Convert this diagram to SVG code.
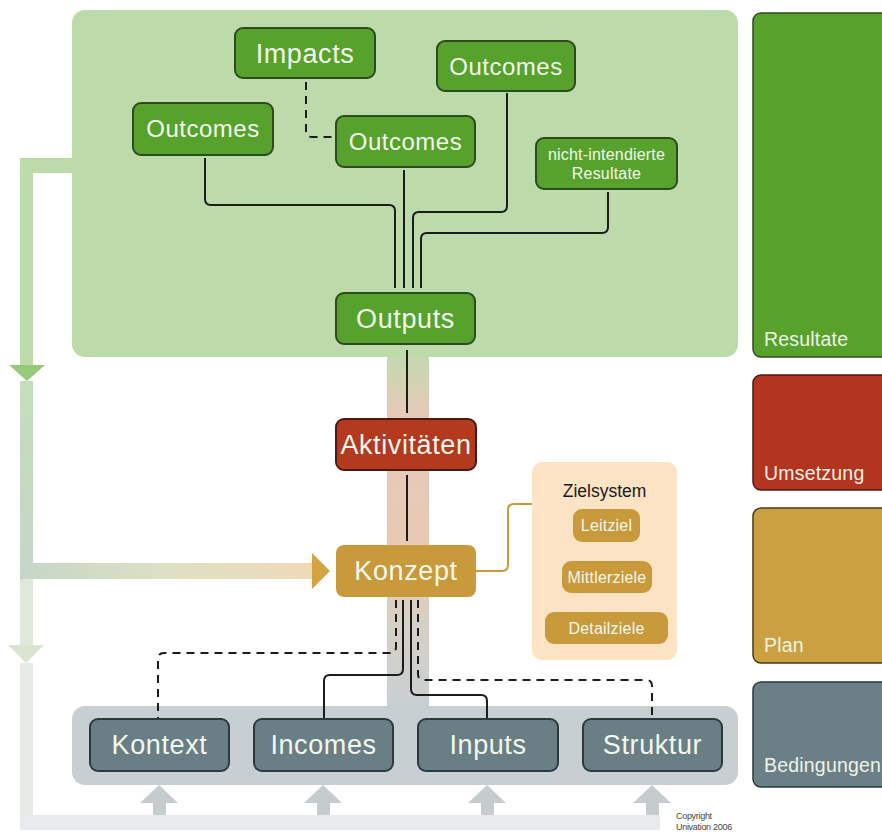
<svg xmlns="http://www.w3.org/2000/svg" width="882" height="832" viewBox="0 0 882 832">
<defs>
<style>
text{font-family:"Liberation Sans",Arial,Helvetica,sans-serif;}
.lbl{fill:#f2f7ec;text-anchor:middle;}
.big{font-size:27px;letter-spacing:0.6px;}
.mid{font-size:24px;letter-spacing:0.5px;}
.sm{font-size:16px;letter-spacing:0.2px;}
.cat{fill:#eef3e6;font-size:19.5px;letter-spacing:0.2px;}
.gn{fill:#57a22d;stroke:#2c4a1c;stroke-width:2;}
.rd{fill:#b3391f;stroke:#4a1a10;stroke-width:2;}
.gy{fill:#6a7e85;stroke:#2c3a3e;stroke-width:2;}
.gd{fill:#c99a3c;}
.ln{fill:none;stroke:#1c1c1c;stroke-width:2;}
.ds{fill:none;stroke:#1c1c1c;stroke-width:2;stroke-dasharray:8 6;}
</style>
<linearGradient id="band" x1="0" y1="356" x2="0" y2="706" gradientUnits="userSpaceOnUse">
<stop offset="0" stop-color="#c3d9b0"/>
<stop offset="0.15" stop-color="#e4cbb7"/>
<stop offset="0.55" stop-color="#e8c9b6"/>
<stop offset="0.75" stop-color="#d8d0c4"/>
<stop offset="1" stop-color="#c8cfd2"/>
</linearGradient>
<linearGradient id="hbar" x1="20" y1="0" x2="312" y2="0" gradientUnits="userSpaceOnUse">
<stop offset="0" stop-color="#c5d6c8"/>
<stop offset="0.5" stop-color="#dde0c4"/>
<stop offset="1" stop-color="#efd8b8"/>
</linearGradient>
<linearGradient id="vbar" x1="0" y1="380" x2="0" y2="580" gradientUnits="userSpaceOnUse">
<stop offset="0" stop-color="#c7dcbd"/>
<stop offset="1" stop-color="#c6d6c8"/>
</linearGradient>
</defs>

<g id="backgrounds">
<rect x="387" y="350" width="42" height="362" fill="url(#band)"/>
<rect id="panel-results" x="72" y="10" width="666" height="347" rx="13" fill="#bddaab"/>
<rect id="panel-conditions" x="72" y="706" width="666" height="79" rx="13" fill="#c8cfd2"/>
</g>

<g id="feedback-arrows">
<rect x="20" y="158" width="53" height="15" fill="#bddaab"/>
<rect x="20" y="158" width="13" height="208" fill="#bddaab"/>
<polygon points="9,365 45,365 27,381" fill="#98c87a"/>
<rect x="20" y="381" width="13" height="198" fill="url(#vbar)"/>
<rect x="20" y="563" width="292" height="16" fill="url(#hbar)"/>
<polygon points="312,553 312,589 330,571" fill="#d4a443"/>
<rect x="20" y="579" width="13" height="67" fill="#e0e8dc"/>
<polygon points="8,645 44,645 26,663" fill="#d9e5d0"/>
<rect x="20" y="663" width="13" height="167" fill="#e6ebe8"/>
<rect x="20" y="815" width="640" height="15" fill="#e8ebee"/>
<g fill="#c6ccce">
<rect x="153" y="802" width="13" height="13"/><polygon points="140,803 178,803 159,785"/>
<rect x="317" y="802" width="13" height="13"/><polygon points="304,803 342,803 323,785"/>
<rect x="481" y="802" width="13" height="13"/><polygon points="468,803 506,803 487,785"/>
<rect x="646" y="802" width="13" height="13"/><polygon points="633,803 671,803 652,785"/>
</g>
</g>

<g id="connectors">
<path class="ln" d="M205,158 V199 Q205,205 211,205 H389 Q395,205 395,211 V288"/>
<path class="ln" d="M404,170 V288"/>
<path class="ln" d="M507,93 V206 Q507,212 501,212 H419 Q413,212 413,218 V288"/>
<path class="ln" d="M608,192 V227 Q608,233 602,233 H427 Q421,233 421,239 V288"/>
<path class="ds" d="M306,82 V131 Q306,137 312,137 H336"/>
<path class="ln" d="M407,350 V413"/>
<path class="ln" d="M407,475 V541"/>
<path fill="none" stroke="#c89a3c" stroke-width="2" d="M476,571 H502 Q508,571 508,565 V510 Q508,504 514,504 H532"/>
<path class="ds" d="M396,600 V647 Q396,653 390,653 H164 Q158,653 158,659 V719"/>
<path class="ln" d="M403,600 V669 Q403,675 397,675 H330 Q324,675 324,681 V719"/>
<path class="ln" d="M411,600 V689 Q411,695 417,695 H481 Q487,695 487,701 V719"/>
<path class="ds" d="M418,600 V674 Q418,680 424,680 H646 Q652,680 652,686 V719"/>
</g>

<g id="impacts"><rect class="gn" x="235" y="28" width="140" height="50" rx="8"/><text class="lbl big" x="305" y="63">Impacts</text></g>
<g id="outcomes-left"><rect class="gn" x="133" y="103" width="140" height="52" rx="8"/><text class="lbl mid" x="203" y="137">Outcomes</text></g>
<g id="outcomes-middle"><rect class="gn" x="336" y="116" width="139" height="51" rx="8"/><text class="lbl mid" x="405.5" y="150">Outcomes</text></g>
<g id="outcomes-right"><rect class="gn" x="437" y="41" width="138" height="50" rx="8"/><text class="lbl mid" x="506" y="75">Outcomes</text></g>
<g id="nicht-intendierte"><rect class="gn" x="536" y="138" width="141" height="51" rx="8"/><text class="lbl sm" x="606.5" y="160">nicht-intendierte</text><text class="lbl sm" x="606.5" y="179">Resultate</text></g>
<g id="outputs"><rect class="gn" x="336" y="293" width="139" height="51" rx="8"/><text class="lbl big" x="405.5" y="328">Outputs</text></g>
<g id="aktivitaeten"><rect class="rd" x="336" y="419" width="140" height="51" rx="8"/><text class="lbl big" x="406" y="454">Aktivitäten</text></g>
<g id="konzept"><rect class="gd" x="336" y="545" width="140" height="52" rx="8"/><text class="lbl big" x="406" y="580">Konzept</text></g>

<g id="zielsystem">
<rect x="532" y="462" width="145" height="198" rx="10" fill="#fce3c4"/>
<text x="604.5" y="497" text-anchor="middle" font-size="17.5" fill="#1a1a1a">Zielsystem</text>
<g id="leitziel"><rect class="gd" x="573" y="509" width="67" height="33" rx="9"/><text class="lbl sm" x="606.5" y="531">Leitziel</text></g>
<g id="mittlerziele"><rect class="gd" x="562" y="561" width="90" height="32" rx="9"/><text class="lbl sm" x="607" y="583">Mittlerziele</text></g>
<g id="detailziele"><rect class="gd" x="545" y="612" width="123" height="32" rx="9"/><text class="lbl sm" x="606.5" y="634">Detailziele</text></g>
</g>

<g id="kontext"><rect class="gy" x="90" y="719" width="139" height="52" rx="8"/><text class="lbl big" x="159.5" y="754">Kontext</text></g>
<g id="incomes"><rect class="gy" x="254" y="719" width="139" height="52" rx="8"/><text class="lbl big" x="323.5" y="754">Incomes</text></g>
<g id="inputs"><rect class="gy" x="418" y="719" width="140" height="52" rx="8"/><text class="lbl big" x="488" y="754">Inputs</text></g>
<g id="struktur"><rect class="gy" x="583" y="719" width="139" height="52" rx="8"/><text class="lbl big" x="652.5" y="754">Struktur</text></g>

<g id="cat-resultate"><rect x="753" y="13" width="140" height="344" rx="8" fill="#58a22c" stroke="#2f4a20" stroke-width="1.5"/><text class="cat" x="764" y="346">Resultate</text></g>
<g id="cat-umsetzung"><rect x="753" y="375" width="140" height="115" rx="8" fill="#b3341f" stroke="#4a1a10" stroke-width="1.5"/><text class="cat" x="764" y="480">Umsetzung</text></g>
<g id="cat-plan"><rect x="753" y="508" width="140" height="155" rx="8" fill="#caa040" stroke="#4a3a14" stroke-width="1.5"/><text class="cat" x="764" y="652">Plan</text></g>
<g id="cat-bedingungen"><rect x="753" y="682" width="140" height="105" rx="8" fill="#6b7f86" stroke="#2c3a3e" stroke-width="1.5"/><text class="cat" x="764" y="772">Bedingungen</text></g>

<g id="copyright" font-size="9" fill="#444" letter-spacing="-0.3">
<text x="676" y="819">Copyright</text>
<text x="676" y="830">Univation 2006</text>
</g>
</svg>
